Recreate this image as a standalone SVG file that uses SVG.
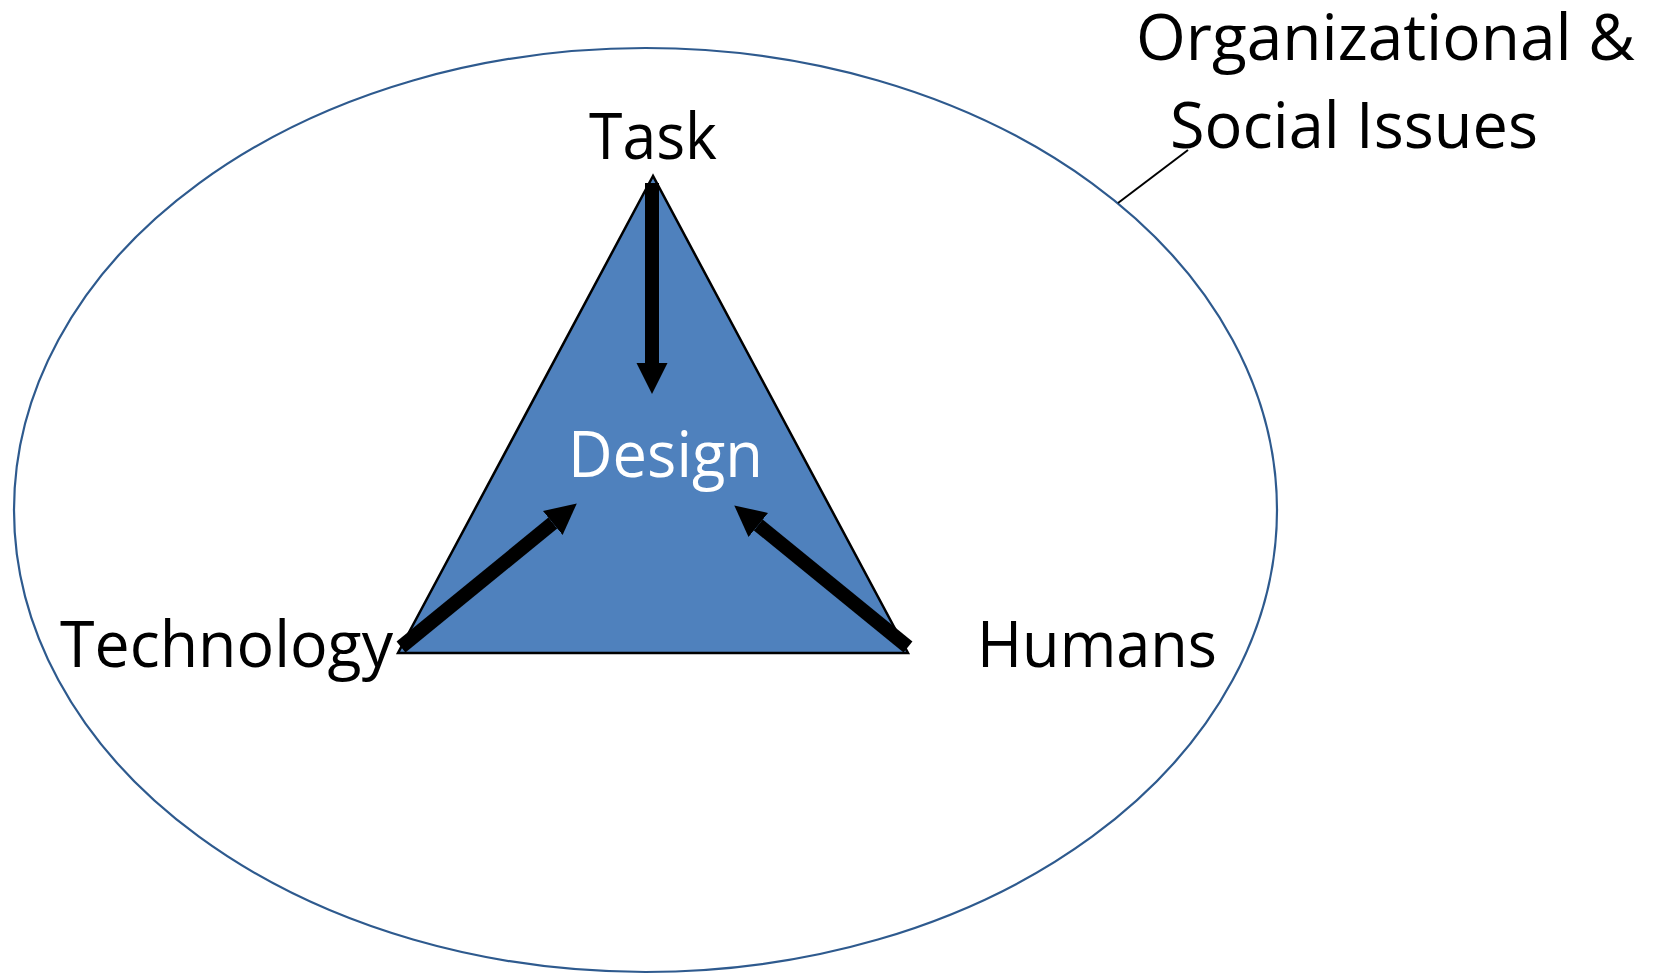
<svg xmlns="http://www.w3.org/2000/svg" width="1662" height="974" viewBox="0 0 1662 974">
  <style>
    .lbl { font-family: "Open Sans", "Liberation Sans", sans-serif; font-size: 64px; fill: #000; }
    .lbl-w { font-family: "Open Sans", "Liberation Sans", sans-serif; font-size: 64px; fill: #fff; }
    .arrow { stroke: #000; stroke-width: 14; fill: none; }
  </style>
  <defs>
    <marker id="head" markerUnits="userSpaceOnUse" markerWidth="32" markerHeight="32" refX="0" refY="16" orient="auto">
      <path d="M0,0.5 L31,16 L0,31.5 Z" fill="#000"/>
    </marker>
  </defs>
  <rect width="1662" height="974" fill="#fff"/>
  <g id="context">
    <ellipse cx="645.5" cy="510" rx="631.5" ry="462" fill="none" stroke="#2E5A8E" stroke-width="2.2"/>
    <line x1="1118" y1="203" x2="1188" y2="150" stroke="#000" stroke-width="2"/>
    <text class="lbl" x="1136" y="60" textLength="499" lengthAdjust="spacingAndGlyphs">Organizational &amp;</text>
    <text class="lbl" x="1170" y="148" textLength="368" lengthAdjust="spacingAndGlyphs">Social Issues</text>
  </g>
  <g id="design">
    <polygon points="653,176 398,653 908,653" fill="#4F81BD" stroke="#000" stroke-width="2.5" stroke-linejoin="miter"/>
    <text class="lbl-w" x="568" y="477" textLength="195" lengthAdjust="spacingAndGlyphs">Design</text>
  </g>
  <g id="task">
    <text class="lbl" x="589" y="159" textLength="128" lengthAdjust="spacingAndGlyphs">Task</text>
  </g>
  <g id="technology">
    <text class="lbl" x="60" y="667" textLength="333" lengthAdjust="spacingAndGlyphs">Technology</text>
  </g>
  <g id="humans">
    <text class="lbl" x="977" y="667" textLength="240" lengthAdjust="spacingAndGlyphs">Humans</text>
  </g>
  <g id="connectors">
    <line class="arrow" x1="652" y1="183" x2="652" y2="363" marker-end="url(#head)"/>
    <line class="arrow" x1="401" y1="647" x2="552.8" y2="523" marker-end="url(#head)"/>
    <line class="arrow" x1="908" y1="647" x2="758.3" y2="525" marker-end="url(#head)"/>
  </g>
</svg>
